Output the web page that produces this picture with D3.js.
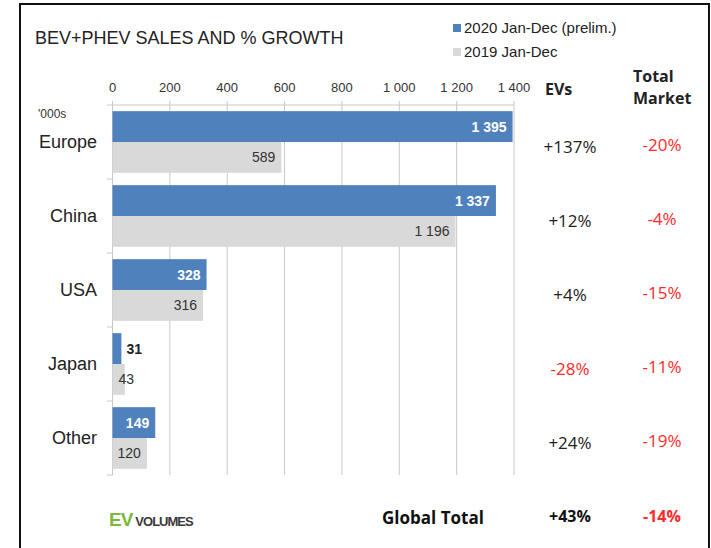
<!DOCTYPE html>
<html>
<head>
<meta charset="utf-8">
<script src="https://cdn.jsdelivr.net/npm/d3@7"></script>
<style>
  body { margin: 0; background: #fff; }
  svg { display: block; }
</style>
</head>
<body>
<script>
var categories = ["Europe", "China", "USA", "Japan", "Other"];
var sales2020 = [1395, 1337, 328, 31, 149];
var sales2019 = [589, 1196, 316, 43, 120];
var evGrowth = ["+137%", "+12%", "+4%", "-28%", "+24%"];
var marketGrowth = ["-20%", "-4%", "-15%", "-11%", "-19%"];
var tickValues = [0, 200, 400, 600, 800, 1000, 1200, 1400];
var seriesNames = ["2020 Jan-Dec (prelim.)", "2019 Jan-Dec"];
var globalTotal = ["+43%", "-14%"];

var blue = "#4f81bd", grey = "#d9d9d9", red = "#ff2a2a";
var sans = "Liberation Sans, Arial, sans-serif";
var segoe = "Open Sans, Noto Sans, sans-serif";

var svg = d3.select("body").append("svg")
    .attr("width", 711)
    .attr("height", 548);

// frame
svg.append("rect")
    .attr("x", 20).attr("y", 4)
    .attr("width", 689).attr("height", 560)
    .attr("fill", "none")
    .attr("stroke", "#111")
    .attr("stroke-width", 2);

var x = d3.scaleLinear().domain([0, 1400]).range([112.5, 514]);
var y = d3.scaleBand().domain(categories).range([105, 475]).paddingInner(0).paddingOuter(0);
var inner = d3.scaleBand().domain([0, 1]).range([0, y.bandwidth()]).paddingOuter(0.2).paddingInner(0);

// gridlines
svg.append("g").selectAll("line")
    .data(tickValues)
    .join("line")
    .attr("x1", d => x(d)).attr("x2", d => x(d))
    .attr("y1", 101).attr("y2", 475)
    .attr("stroke", "#c8c8c8").attr("stroke-width", 1);

// top axis line
svg.append("line")
    .attr("x1", 107).attr("x2", x(1400))
    .attr("y1", 105).attr("y2", 105)
    .attr("stroke", "#c8c8c8");

// category ticks
svg.append("g").selectAll("line")
    .data(categories)
    .join("line")
    .attr("x1", 107).attr("x2", x(0))
    .attr("y1", d => y(d) + y.bandwidth()).attr("y2", d => y(d) + y.bandwidth())
    .attr("stroke", "#c8c8c8");

// tick labels
var fmt = d => d3.format(",")(d).replace(/,/g, " ");
svg.append("g").selectAll("text")
    .data(tickValues)
    .join("text")
    .attr("x", d => x(d)).attr("y", 92)
    .attr("text-anchor", "middle")
    .attr("font-family", sans).attr("font-size", 13)
    .attr("fill", "#333")
    .text(fmt);

svg.append("text")
    .attr("x", 38).attr("y", 118)
    .attr("font-family", sans).attr("font-size", 12).attr("fill", "#333")
    .text("'000s");

// category labels
svg.append("g").selectAll("text")
    .data(categories)
    .join("text")
    .attr("x", 97)
    .attr("y", d => y(d) + inner(1) + 6)
    .attr("text-anchor", "end")
    .attr("font-family", sans).attr("font-size", 18).attr("fill", "#222")
    .text(d => d);

// bars
var rows = categories.map((c, i) => ({ cat: c, i: i, v20: sales2020[i], v19: sales2019[i] }));

var g = svg.append("g");
g.selectAll(".b20").data(rows).join("rect")
    .attr("x", x(0)).attr("y", d => y(d.cat) + inner(0))
    .attr("width", d => x(d.v20) - x(0)).attr("height", inner.bandwidth())
    .attr("fill", blue);
g.selectAll(".b19").data(rows).join("rect")
    .attr("x", x(0)).attr("y", d => y(d.cat) + inner(1))
    .attr("width", d => x(d.v19) - x(0)).attr("height", inner.bandwidth())
    .attr("fill", grey);

// value labels
function label(d, v, idx) {
    var w = x(v) - x(0);
    var txt = fmt(v);
    var est = txt.length * 8 + 8;
    var t = g.append("text")
        .attr("y", y(d.cat) + inner(idx) + inner.bandwidth() / 2 + 5)
        .attr("font-family", sans).attr("font-size", 14)
        .text(txt);
    if (idx === 0) {
        t.attr("font-weight", "bold");
        if (w > est) t.attr("x", x(v) - 6).attr("text-anchor", "end").attr("fill", "#fff");
        else t.attr("x", x(v) + 5).attr("text-anchor", "start").attr("fill", "#222");
    } else {
        t.attr("fill", "#333");
        if (w > est) t.attr("x", x(v) - 6).attr("text-anchor", "end");
        else t.attr("x", x(0) + 6).attr("text-anchor", "start");
    }
}
rows.forEach(d => { label(d, d.v20, 0); label(d, d.v19, 1); });

// growth columns
var colEV = 570, colTM = 662;
svg.append("text")
    .attr("x", 545).attr("y", 95)
    .attr("font-family", segoe).attr("font-size", 16).attr("font-weight", "bold")
    .attr("fill", "#222").text("EVs");
svg.append("text")
    .attr("x", 633).attr("y", 82)
    .attr("font-family", segoe).attr("font-size", 16).attr("font-weight", "bold")
    .attr("fill", "#222").text("Total");
svg.append("text")
    .attr("x", 633).attr("y", 104)
    .attr("font-family", segoe).attr("font-size", 16).attr("font-weight", "bold")
    .attr("fill", "#222").text("Market");

svg.append("g").selectAll("text")
    .data(rows)
    .join("text")
    .attr("x", colEV).attr("y", d => y(d.cat) + inner(1) + 11)
    .attr("text-anchor", "middle")
    .attr("font-family", segoe).attr("font-size", 17)
    .attr("fill", d => evGrowth[d.i][0] === "-" ? red : "#222")
    .text(d => evGrowth[d.i]);

svg.append("g").selectAll("text")
    .data(rows)
    .join("text")
    .attr("x", colTM).attr("y", d => y(d.cat) + inner(1) + 9)
    .attr("text-anchor", "middle")
    .attr("font-family", segoe).attr("font-size", 17)
    .attr("fill", red)
    .text(d => marketGrowth[d.i]);

// title
svg.append("text")
    .attr("x", 35).attr("y", 44)
    .attr("font-family", sans).attr("font-size", 18).attr("fill", "#222")
    .text("BEV+PHEV SALES AND % GROWTH");

// legend
var leg = svg.append("g").selectAll("g")
    .data(seriesNames)
    .join("g")
    .attr("transform", (d, i) => "translate(453," + (28 + i * 24) + ")");
leg.append("rect")
    .attr("x", 0).attr("y", -4).attr("width", 8).attr("height", 8)
    .attr("fill", (d, i) => i === 0 ? blue : grey);
leg.append("text")
    .attr("x", 11).attr("y", 5)
    .attr("font-family", sans).attr("font-size", 15).attr("fill", "#222")
    .text(d => d);

// bottom row
var logo = svg.append("text")
    .attr("x", 109).attr("y", 526)
    .attr("font-family", sans);
logo.append("tspan").attr("font-size", 19).attr("font-weight", "bold")
    .attr("letter-spacing", -1).attr("fill", "#7cb83a").text("EV");
logo.append("tspan").attr("font-size", 13).attr("font-weight", "bold")
    .attr("fill", "#3a3a3a").attr("dx", 3)
    .attr("letter-spacing", -1).text("VOLUMES");

svg.append("text")
    .attr("x", 433).attr("y", 524)
    .attr("text-anchor", "middle")
    .attr("font-family", segoe).attr("font-size", 17).attr("font-weight", "bold")
    .attr("fill", "#111").text("Global Total");
svg.append("text")
    .attr("x", colEV).attr("y", 522)
    .attr("text-anchor", "middle")
    .attr("font-family", segoe).attr("font-size", 16).attr("font-weight", "bold")
    .attr("fill", "#111").text(globalTotal[0]);
svg.append("text")
    .attr("x", colTM).attr("y", 522)
    .attr("text-anchor", "middle")
    .attr("font-family", segoe).attr("font-size", 16).attr("font-weight", "bold")
    .attr("fill", red).text(globalTotal[1]);
</script>
</body>
</html>
